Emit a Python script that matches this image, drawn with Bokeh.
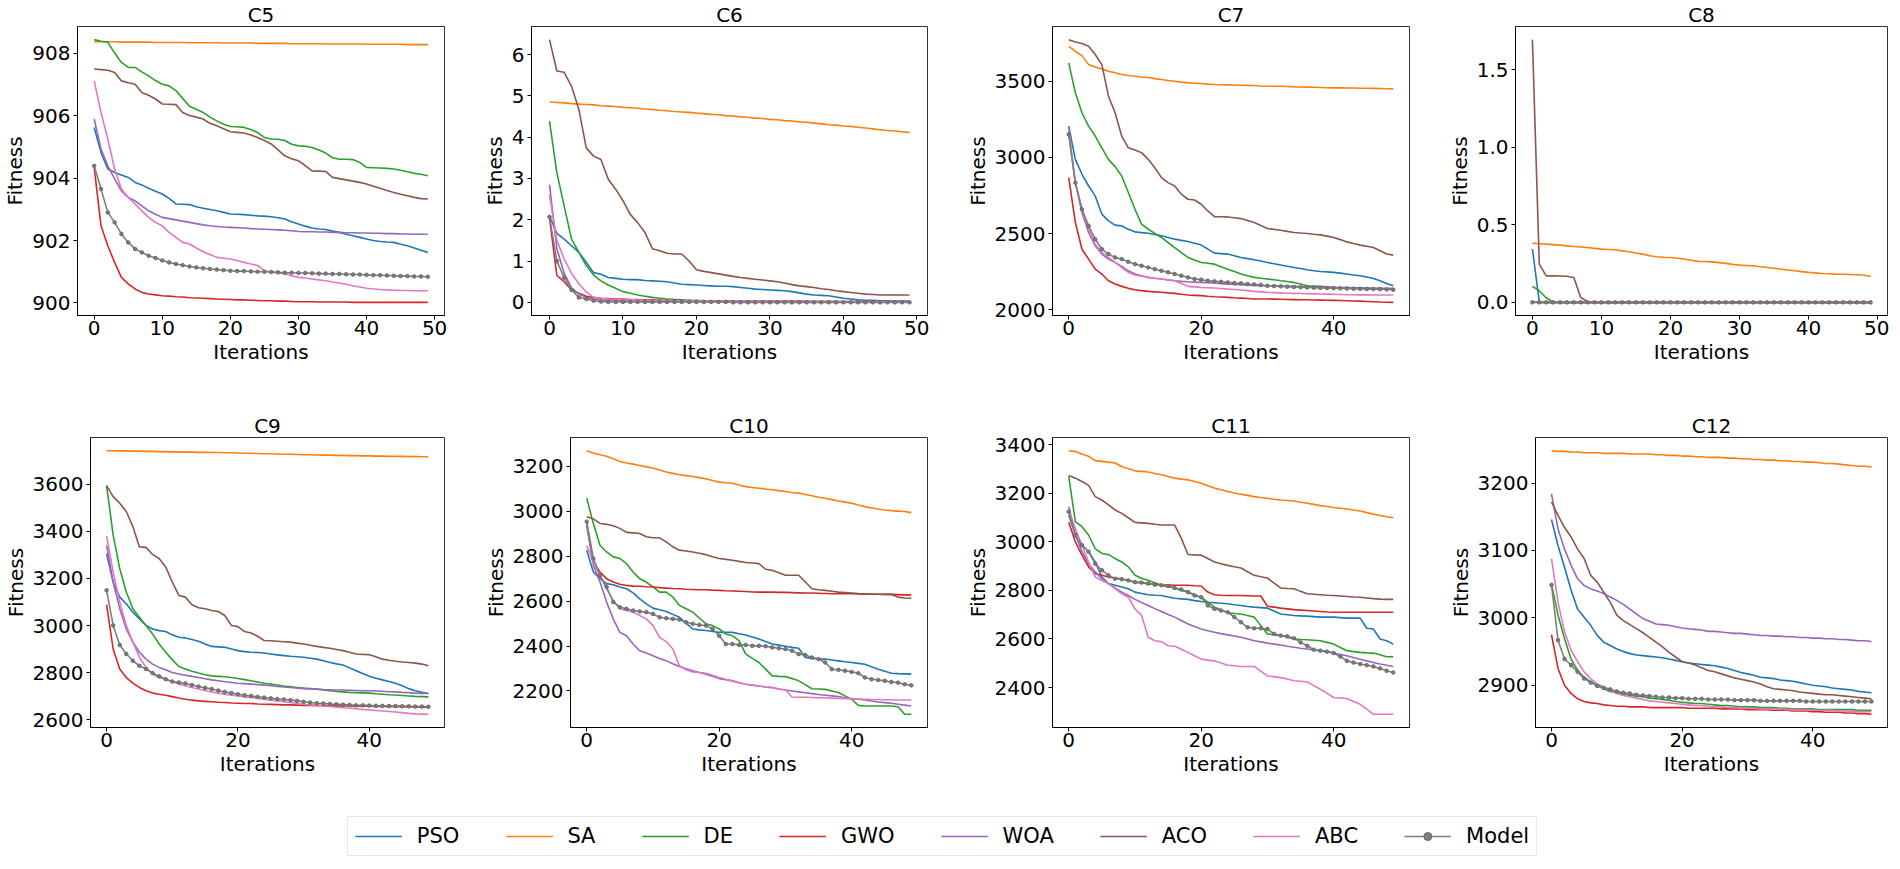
from bokeh.plotting import figure
from bokeh.layouts import column, row
from bokeh.models import Range1d, FixedTicker, Legend, LegendItem, Label, PrintfTickFormatter
from bokeh.embed import file_html
from bokeh.resources import INLINE

ITERATIONS = list(range(50))
ALGORITHMS = ["PSO", "SA", "DE", "GWO", "WOA", "ACO", "ABC", "Model"]
COLORS = ["#1f77b4", "#ff7f0e", "#2ca02c", "#d62728", "#9467bd", "#8c564b", "#e377c2", "#7f7f7f"]

# ---------------- C5 ----------------
C5_PSO = [905.62, 904.82, 904.29, 904.18, 904.10, 904.02, 903.86, 903.78, 903.67, 903.58,
          903.49, 903.35, 903.17, 903.16, 903.15, 903.08, 903.03, 902.99, 902.95, 902.90,
          902.85, 902.84, 902.83, 902.81, 902.79, 902.78, 902.76, 902.73, 902.69, 902.60,
          902.53, 902.46, 902.40, 902.37, 902.35, 902.30, 902.26, 902.20, 902.15, 902.10,
          902.05, 902.00, 901.97, 901.95, 901.94, 901.88, 901.83, 901.76, 901.69, 901.62]
C5_SA = [908.36, 908.36, 908.36, 908.36, 908.35, 908.35, 908.35, 908.35, 908.35, 908.34,
         908.34, 908.34, 908.34, 908.34, 908.33, 908.33, 908.33, 908.33, 908.33, 908.32,
         908.32, 908.32, 908.32, 908.32, 908.31, 908.31, 908.31, 908.31, 908.31, 908.30,
         908.30, 908.30, 908.30, 908.30, 908.29, 908.29, 908.29, 908.29, 908.29, 908.29,
         908.28, 908.28, 908.28, 908.28, 908.28, 908.28, 908.27, 908.27, 908.27, 908.27]
C5_DE = [908.43, 908.38, 908.35, 908.00, 907.70, 907.54, 907.54, 907.40, 907.27, 907.12,
         907.00, 906.95, 906.80, 906.55, 906.30, 906.20, 906.10, 905.95, 905.83, 905.72,
         905.65, 905.64, 905.62, 905.55, 905.46, 905.30, 905.25, 905.24, 905.20, 905.08,
         905.03, 905.02, 904.98, 904.90, 904.80, 904.65, 904.60, 904.60, 904.59, 904.50,
         904.34, 904.33, 904.32, 904.31, 904.29, 904.25, 904.20, 904.15, 904.12, 904.07]
C5_GWO = [904.34, 902.47, 901.83, 901.30, 900.82, 900.61, 900.45, 900.34, 900.29, 900.26,
          900.23, 900.22, 900.20, 900.19, 900.17, 900.16, 900.15, 900.14, 900.13, 900.12,
          900.11, 900.10, 900.10, 900.09, 900.08, 900.07, 900.07, 900.06, 900.06, 900.05,
          900.04, 900.04, 900.04, 900.03, 900.03, 900.03, 900.03, 900.03, 900.02, 900.02,
          900.02, 900.02, 900.02, 900.02, 900.02, 900.02, 900.02, 900.02, 900.02, 900.02]
C5_WOA = [905.89, 904.93, 904.39, 903.97, 903.59, 903.38, 903.27, 903.11, 902.95, 902.84,
          902.74, 902.70, 902.66, 902.62, 902.58, 902.54, 902.50, 902.47, 902.45, 902.43,
          902.42, 902.41, 902.40, 902.38, 902.37, 902.36, 902.35, 902.34, 902.33, 902.31,
          902.29, 902.28, 902.28, 902.27, 902.27, 902.26, 902.26, 902.25, 902.25, 902.24,
          902.24, 902.23, 902.23, 902.22, 902.22, 902.21, 902.21, 902.20, 902.20, 902.20]
C5_ACO = [907.49, 907.47, 907.45, 907.38, 907.11, 907.05, 907.00, 906.74, 906.65, 906.53,
          906.37, 906.36, 906.35, 906.10, 906.00, 905.95, 905.89, 905.75, 905.67, 905.58,
          905.48, 905.46, 905.44, 905.38, 905.30, 905.20, 905.09, 904.90, 904.71, 904.62,
          904.55, 904.40, 904.23, 904.22, 904.21, 904.02, 903.98, 903.94, 903.90, 903.86,
          903.81, 903.74, 903.67, 903.60, 903.54, 903.48, 903.43, 903.38, 903.34, 903.33]
C5_ABC = [907.11, 906.10, 905.25, 904.29, 903.65, 903.38, 903.17, 902.95, 902.74, 902.58,
          902.47, 902.26, 902.10, 901.94, 901.89, 901.76, 901.64, 901.55, 901.46, 901.43,
          901.41, 901.36, 901.30, 901.25, 901.20, 901.03, 900.99, 900.96, 900.93, 900.87,
          900.82, 900.80, 900.77, 900.74, 900.71, 900.67, 900.64, 900.60, 900.55, 900.51,
          900.47, 900.45, 900.43, 900.42, 900.41, 900.40, 900.40, 900.39, 900.39, 900.39]
C5_MODEL = [904.39, 903.65, 902.90, 902.58, 902.21, 901.94, 901.73, 901.62, 901.51, 901.44,
            901.36, 901.30, 901.25, 901.21, 901.17, 901.14, 901.11, 901.09, 901.07, 901.05,
            901.03, 901.02, 901.02, 901.01, 901.00, 901.00, 900.99, 900.98, 900.97, 900.97,
            900.96, 900.96, 900.95, 900.94, 900.94, 900.93, 900.93, 900.92, 900.91, 900.91,
            900.90, 900.89, 900.89, 900.88, 900.87, 900.86, 900.86, 900.85, 900.85, 900.84]

# ---------------- C6 (values in units of 1e8) ----------------
C6_PSO = [2.09, 1.67, 1.53, 1.37, 1.21, 0.97, 0.72, 0.68, 0.60, 0.58,
          0.56, 0.55, 0.55, 0.53, 0.52, 0.51, 0.50, 0.47, 0.44, 0.43,
          0.42, 0.41, 0.40, 0.39, 0.39, 0.38, 0.36, 0.34, 0.32, 0.31,
          0.30, 0.29, 0.28, 0.26, 0.23, 0.20, 0.18, 0.17, 0.16, 0.13,
          0.10, 0.08, 0.06, 0.05, 0.05, 0.04, 0.04, 0.03, 0.03, 0.03]
C6_SA = [4.85, 4.84, 4.83, 4.81, 4.80, 4.79, 4.78, 4.76, 4.75, 4.74,
         4.72, 4.71, 4.70, 4.68, 4.67, 4.65, 4.64, 4.62, 4.61, 4.60,
         4.58, 4.57, 4.55, 4.54, 4.52, 4.51, 4.49, 4.48, 4.46, 4.45,
         4.43, 4.42, 4.40, 4.39, 4.37, 4.36, 4.34, 4.32, 4.30, 4.29,
         4.27, 4.26, 4.24, 4.22, 4.20, 4.18, 4.16, 4.15, 4.13, 4.11]
C6_DE = [4.39, 3.14, 2.33, 1.53, 1.21, 0.89, 0.66, 0.52, 0.42, 0.34,
         0.26, 0.22, 0.18, 0.15, 0.12, 0.10, 0.08, 0.07, 0.06, 0.05,
         0.05, 0.04, 0.04, 0.04, 0.03, 0.03, 0.03, 0.03, 0.03, 0.02,
         0.02, 0.02, 0.02, 0.02, 0.02, 0.02, 0.02, 0.02, 0.02, 0.02,
         0.01, 0.01, 0.01, 0.01, 0.01, 0.01, 0.01, 0.01, 0.01, 0.01]
C6_GWO = [2.05, 0.65, 0.50, 0.30, 0.22, 0.15, 0.12, 0.10, 0.09, 0.08,
          0.08, 0.07, 0.07, 0.06, 0.06, 0.05, 0.05, 0.05, 0.04, 0.04,
          0.04, 0.03, 0.03, 0.03, 0.03, 0.03, 0.03, 0.03, 0.03, 0.03,
          0.03, 0.03, 0.03, 0.03, 0.03, 0.03, 0.02, 0.02, 0.02, 0.02,
          0.02, 0.02, 0.02, 0.02, 0.02, 0.02, 0.02, 0.02, 0.02, 0.02]
C6_WOA = [2.85, 1.30, 0.70, 0.35, 0.20, 0.12, 0.08, 0.06, 0.05, 0.05,
          0.04, 0.04, 0.04, 0.03, 0.03, 0.03, 0.03, 0.03, 0.03, 0.02,
          0.02, 0.02, 0.02, 0.02, 0.02, 0.02, 0.02, 0.02, 0.02, 0.02,
          0.02, 0.02, 0.02, 0.02, 0.02, 0.01, 0.01, 0.01, 0.01, 0.01,
          0.01, 0.01, 0.01, 0.01, 0.01, 0.01, 0.01, 0.01, 0.01, 0.01]
C6_ACO = [6.36, 5.60, 5.57, 5.23, 4.67, 3.74, 3.54, 3.46, 2.98, 2.74,
          2.46, 2.13, 1.93, 1.69, 1.30, 1.25, 1.19, 1.17, 1.17, 1.00,
          0.79, 0.75, 0.72, 0.69, 0.66, 0.63, 0.60, 0.58, 0.56, 0.54,
          0.52, 0.50, 0.47, 0.43, 0.40, 0.38, 0.36, 0.33, 0.31, 0.28,
          0.26, 0.24, 0.22, 0.20, 0.19, 0.18, 0.18, 0.18, 0.18, 0.18]
C6_ABC = [2.60, 1.50, 1.05, 0.70, 0.45, 0.25, 0.12, 0.09, 0.08, 0.07,
          0.07, 0.06, 0.06, 0.05, 0.05, 0.05, 0.05, 0.04, 0.04, 0.04,
          0.04, 0.03, 0.03, 0.03, 0.03, 0.03, 0.03, 0.03, 0.03, 0.03,
          0.03, 0.03, 0.03, 0.03, 0.03, 0.03, 0.02, 0.02, 0.02, 0.02,
          0.02, 0.02, 0.02, 0.02, 0.02, 0.02, 0.02, 0.02, 0.02, 0.02]
C6_MODEL = [2.07, 1.00, 0.60, 0.30, 0.12, 0.08, 0.04, 0.02, 0.01, 0.01,
            0.01, 0.01, 0.01, 0.01, 0.01, 0.01, 0.01, 0.01, 0.01, 0.01,
            0.01, 0.01, 0.01, 0.01, 0.01, 0.00, 0.00, 0.00, 0.00, 0.00,
            0.00, 0.00, 0.00, 0.00, 0.00, 0.00, 0.00, 0.00, 0.00, 0.00,
            0.00, 0.00, 0.00, 0.00, 0.00, 0.00, 0.00, 0.00, 0.00, 0.00]

# ---------------- C7 ----------------
C7_PSO = [3205, 2987, 2889, 2812, 2747, 2627, 2583, 2555, 2550, 2528,
          2511, 2506, 2502, 2494, 2485, 2474, 2463, 2455, 2448, 2436,
          2424, 2398, 2371, 2368, 2365, 2354, 2343, 2335, 2328, 2319,
          2310, 2301, 2293, 2285, 2277, 2270, 2262, 2256, 2251, 2248,
          2245, 2240, 2234, 2228, 2223, 2214, 2205, 2190, 2172, 2157]
C7_SA = [3729, 3697, 3668, 3609, 3594, 3581, 3566, 3555, 3544, 3538,
         3533, 3528, 3524, 3517, 3511, 3505, 3500, 3494, 3489, 3487,
         3485, 3481, 3478, 3477, 3476, 3475, 3474, 3473, 3472, 3469,
         3467, 3467, 3467, 3465, 3463, 3462, 3461, 3460, 3459, 3457,
         3456, 3456, 3455, 3455, 3454, 3454, 3453, 3452, 3451, 3450]
C7_DE = [3620, 3424, 3293, 3205, 3140, 3063, 2987, 2939, 2878, 2769,
         2659, 2561, 2528, 2501, 2474, 2441, 2408, 2375, 2343, 2326,
         2310, 2305, 2299, 2282, 2266, 2250, 2234, 2223, 2212, 2206,
         2201, 2196, 2190, 2185, 2179, 2168, 2157, 2155, 2153, 2150,
         2146, 2144, 2142, 2141, 2140, 2140, 2140, 2138, 2136, 2135]
C7_GWO = [2867, 2572, 2397, 2332, 2266, 2234, 2190, 2168, 2153, 2140,
          2131, 2125, 2120, 2117, 2114, 2110, 2107, 2101, 2096, 2094,
          2092, 2088, 2085, 2083, 2081, 2078, 2076, 2073, 2070, 2070,
          2070, 2069, 2068, 2067, 2066, 2065, 2065, 2064, 2063, 2062,
          2061, 2060, 2059, 2057, 2056, 2054, 2052, 2050, 2049, 2048]
C7_WOA = [3162, 2834, 2638, 2507, 2419, 2365, 2332, 2310, 2284, 2255,
          2234, 2223, 2212, 2206, 2201, 2195, 2190, 2186, 2183, 2181,
          2179, 2177, 2175, 2171, 2168, 2166, 2164, 2161, 2159, 2158,
          2157, 2156, 2155, 2154, 2153, 2152, 2151, 2150, 2149, 2148,
          2147, 2146, 2145, 2144, 2143, 2142, 2141, 2141, 2140, 2140]
C7_ACO = [3773, 3758, 3747, 3729, 3675, 3609, 3402, 3293, 3140, 3063,
          3048, 3031, 2987, 2932, 2867, 2834, 2812, 2758, 2725, 2720,
          2692, 2648, 2611, 2610, 2609, 2604, 2598, 2585, 2572, 2552,
          2533, 2527, 2522, 2514, 2507, 2503, 2500, 2495, 2491, 2483,
          2474, 2460, 2445, 2434, 2424, 2416, 2408, 2387, 2365, 2358]
C7_ABC = [3183, 2834, 2659, 2528, 2430, 2376, 2343, 2310, 2277, 2245,
          2227, 2220, 2212, 2206, 2201, 2196, 2190, 2172, 2153, 2150,
          2146, 2144, 2142, 2139, 2135, 2132, 2129, 2125, 2120, 2117,
          2114, 2112, 2110, 2108, 2107, 2106, 2105, 2104, 2103, 2102,
          2101, 2100, 2098, 2098, 2097, 2097, 2096, 2096, 2096, 2096]
C7_MODEL = [3151, 2834, 2659, 2550, 2463, 2397, 2365, 2343, 2332, 2314,
            2299, 2288, 2277, 2266, 2255, 2245, 2234, 2223, 2212, 2201,
            2197, 2190, 2186, 2183, 2179, 2175, 2173, 2168, 2166, 2162,
            2157, 2155, 2153, 2151, 2149, 2147, 2146, 2144, 2143, 2142,
            2141, 2140, 2139, 2138, 2137, 2136, 2135, 2134, 2133, 2131]

# ---------------- C8 (values in units of 1e12) ----------------
C8_PSO = [0.343, 0.004, 0.0, 0.0, 0.0, 0.0, 0.0, 0.0, 0.0, 0.0,
          0.0, 0.0, 0.0, 0.0, 0.0, 0.0, 0.0, 0.0, 0.0, 0.0,
          0.0, 0.0, 0.0, 0.0, 0.0, 0.0, 0.0, 0.0, 0.0, 0.0,
          0.0, 0.0, 0.0, 0.0, 0.0, 0.0, 0.0, 0.0, 0.0, 0.0,
          0.0, 0.0, 0.0, 0.0, 0.0, 0.0, 0.0, 0.0, 0.0, 0.0]
C8_SA = [0.381, 0.378, 0.375, 0.372, 0.369, 0.364, 0.360, 0.357, 0.354, 0.348,
         0.343, 0.341, 0.339, 0.332, 0.326, 0.318, 0.311, 0.300, 0.294, 0.291,
         0.289, 0.284, 0.279, 0.271, 0.264, 0.263, 0.261, 0.256, 0.251, 0.245,
         0.240, 0.238, 0.236, 0.230, 0.225, 0.220, 0.214, 0.209, 0.204, 0.198,
         0.193, 0.190, 0.186, 0.184, 0.182, 0.181, 0.180, 0.178, 0.176, 0.167]
C8_DE = [0.103, 0.075, 0.030, 0.002, 0.0, 0.0, 0.0, 0.0, 0.0, 0.0,
         0.0, 0.0, 0.0, 0.0, 0.0, 0.0, 0.0, 0.0, 0.0, 0.0,
         0.0, 0.0, 0.0, 0.0, 0.0, 0.0, 0.0, 0.0, 0.0, 0.0,
         0.0, 0.0, 0.0, 0.0, 0.0, 0.0, 0.0, 0.0, 0.0, 0.0,
         0.0, 0.0, 0.0, 0.0, 0.0, 0.0, 0.0, 0.0, 0.0, 0.0]
C8_GWO = [0.003, 0.0, 0.0, 0.0, 0.0, 0.0, 0.0, 0.0, 0.0, 0.0,
          0.0, 0.0, 0.0, 0.0, 0.0, 0.0, 0.0, 0.0, 0.0, 0.0,
          0.0, 0.0, 0.0, 0.0, 0.0, 0.0, 0.0, 0.0, 0.0, 0.0,
          0.0, 0.0, 0.0, 0.0, 0.0, 0.0, 0.0, 0.0, 0.0, 0.0,
          0.0, 0.0, 0.0, 0.0, 0.0, 0.0, 0.0, 0.0, 0.0, 0.0]
C8_WOA = [0.002, 0.0, 0.0, 0.0, 0.0, 0.0, 0.0, 0.0, 0.0, 0.0,
          0.0, 0.0, 0.0, 0.0, 0.0, 0.0, 0.0, 0.0, 0.0, 0.0,
          0.0, 0.0, 0.0, 0.0, 0.0, 0.0, 0.0, 0.0, 0.0, 0.0,
          0.0, 0.0, 0.0, 0.0, 0.0, 0.0, 0.0, 0.0, 0.0, 0.0,
          0.0, 0.0, 0.0, 0.0, 0.0, 0.0, 0.0, 0.0, 0.0, 0.0]
C8_ACO = [1.693, 0.246, 0.171, 0.171, 0.170, 0.168, 0.160, 0.032, 0.004, 0.0,
          0.0, 0.0, 0.0, 0.0, 0.0, 0.0, 0.0, 0.0, 0.0, 0.0,
          0.0, 0.0, 0.0, 0.0, 0.0, 0.0, 0.0, 0.0, 0.0, 0.0,
          0.0, 0.0, 0.0, 0.0, 0.0, 0.0, 0.0, 0.0, 0.0, 0.0,
          0.0, 0.0, 0.0, 0.0, 0.0, 0.0, 0.0, 0.0, 0.0, 0.0]
C8_ABC = [0.004, 0.001, 0.0, 0.0, 0.0, 0.0, 0.0, 0.0, 0.0, 0.0,
          0.0, 0.0, 0.0, 0.0, 0.0, 0.0, 0.0, 0.0, 0.0, 0.0,
          0.0, 0.0, 0.0, 0.0, 0.0, 0.0, 0.0, 0.0, 0.0, 0.0,
          0.0, 0.0, 0.0, 0.0, 0.0, 0.0, 0.0, 0.0, 0.0, 0.0,
          0.0, 0.0, 0.0, 0.0, 0.0, 0.0, 0.0, 0.0, 0.0, 0.0]
C8_MODEL = [0.0, 0.0, 0.0, 0.0, 0.0, 0.0, 0.0, 0.0, 0.0, 0.0,
            0.0, 0.0, 0.0, 0.0, 0.0, 0.0, 0.0, 0.0, 0.0, 0.0,
            0.0, 0.0, 0.0, 0.0, 0.0, 0.0, 0.0, 0.0, 0.0, 0.0,
            0.0, 0.0, 0.0, 0.0, 0.0, 0.0, 0.0, 0.0, 0.0, 0.0,
            0.0, 0.0, 0.0, 0.0, 0.0, 0.0, 0.0, 0.0, 0.0, 0.0]

# ---------------- C9 ----------------
C9_PSO = [3306, 3185, 3121, 3093, 3057, 3029, 3001, 2986, 2979, 2975,
          2961, 2951, 2948, 2941, 2934, 2922, 2912, 2910, 2908, 2901,
          2894, 2890, 2887, 2886, 2884, 2880, 2876, 2873, 2870, 2868,
          2866, 2862, 2858, 2851, 2844, 2838, 2833, 2821, 2809, 2797,
          2785, 2777, 2770, 2763, 2756, 2745, 2733, 2724, 2717, 2712]
C9_SA = [3742, 3742, 3741, 3741, 3740, 3740, 3739, 3739, 3738, 3738,
         3737, 3737, 3736, 3736, 3735, 3735, 3734, 3734, 3733, 3733,
         3732, 3731, 3731, 3730, 3729, 3729, 3728, 3727, 3727, 3726,
         3725, 3725, 3724, 3723, 3723, 3722, 3722, 3721, 3721, 3720,
         3720, 3719, 3719, 3718, 3718, 3718, 3717, 3717, 3716, 3716]
C9_DE = [3594, 3384, 3242, 3143, 3072, 3036, 3001, 2965, 2922, 2887,
         2856, 2827, 2816, 2807, 2799, 2792, 2787, 2785, 2783, 2780,
         2776, 2771, 2766, 2761, 2756, 2752, 2748, 2744, 2741, 2738,
         2735, 2733, 2731, 2727, 2724, 2721, 2719, 2717, 2716, 2715,
         2714, 2711, 2709, 2707, 2706, 2704, 2702, 2700, 2699, 2698]
C9_GWO = [3089, 2901, 2816, 2780, 2756, 2738, 2724, 2714, 2709, 2705,
          2699, 2693, 2688, 2684, 2681, 2679, 2677, 2675, 2674, 2672,
          2671, 2670, 2670, 2668, 2667, 2666, 2665, 2664, 2664, 2663,
          2662, 2662, 2661, 2661, 2660, 2660, 2659, 2659, 2658, 2658,
          2658, 2657, 2657, 2657, 2656, 2656, 2655, 2655, 2654, 2654]
C9_WOA = [3341, 3185, 3072, 2986, 2930, 2887, 2858, 2837, 2823, 2813,
          2801, 2795, 2790, 2785, 2780, 2775, 2770, 2766, 2762, 2759,
          2756, 2754, 2752, 2750, 2748, 2745, 2742, 2740, 2738, 2735,
          2733, 2732, 2731, 2729, 2728, 2727, 2727, 2726, 2725, 2724,
          2724, 2723, 2722, 2720, 2719, 2717, 2716, 2714, 2713, 2712]
C9_ACO = [3594, 3547, 3519, 3484, 3420, 3334, 3332, 3302, 3285, 3249,
          3185, 3128, 3121, 3089, 3076, 3072, 3064, 3060, 3043, 3001,
          2996, 2975, 2969, 2955, 2937, 2936, 2934, 2932, 2930, 2926,
          2922, 2917, 2912, 2908, 2904, 2899, 2894, 2887, 2880, 2878,
          2877, 2868, 2858, 2853, 2849, 2846, 2844, 2841, 2837, 2830]
C9_ABC = [3381, 3228, 3100, 3001, 2930, 2866, 2823, 2795, 2780, 2773,
          2762, 2753, 2745, 2738, 2731, 2725, 2719, 2714, 2709, 2705,
          2702, 2698, 2695, 2691, 2688, 2684, 2681, 2677, 2674, 2670,
          2667, 2664, 2662, 2659, 2657, 2654, 2652, 2650, 2648, 2645,
          2643, 2640, 2638, 2636, 2634, 2631, 2628, 2626, 2625, 2624]
C9_MODEL = [3150, 3001, 2918, 2880, 2851, 2830, 2816, 2799, 2785, 2773,
            2763, 2759, 2755, 2748, 2742, 2736, 2731, 2725, 2719, 2714,
            2709, 2705, 2702, 2698, 2695, 2692, 2689, 2687, 2684, 2681,
            2677, 2674, 2671, 2670, 2668, 2667, 2665, 2664, 2662, 2662,
            2661, 2660, 2660, 2659, 2659, 2658, 2658, 2657, 2657, 2656]

# ---------------- C10 ----------------
C10_PSO = [2827, 2730, 2700, 2678, 2673, 2663, 2655, 2637, 2610, 2588,
           2569, 2562, 2554, 2541, 2528, 2502, 2476, 2472, 2469, 2465,
           2461, 2461, 2461, 2455, 2449, 2440, 2431, 2420, 2409, 2404,
           2399, 2394, 2390, 2349, 2345, 2343, 2342, 2338, 2334, 2330,
           2327, 2323, 2319, 2308, 2297, 2288, 2279, 2277, 2276, 2275]
C10_SA = [3270, 3260, 3252, 3245, 3234, 3222, 3215, 3210, 3204, 3198,
          3193, 3184, 3175, 3169, 3163, 3159, 3155, 3150, 3145, 3137,
          3130, 3127, 3125, 3117, 3110, 3106, 3103, 3099, 3096, 3092,
          3088, 3084, 3081, 3075, 3069, 3063, 3058, 3052, 3046, 3041,
          3036, 3028, 3021, 3015, 3010, 3006, 3003, 3001, 2999, 2994]
C10_DE = [3058, 2946, 2849, 2819, 2797, 2790, 2767, 2730, 2700, 2685,
          2663, 2640, 2640, 2618, 2581, 2566, 2551, 2525, 2499, 2491,
          2476, 2454, 2446, 2424, 2364, 2345, 2327, 2297, 2267, 2265,
          2264, 2255, 2245, 2228, 2210, 2209, 2207, 2200, 2193, 2178,
          2163, 2136, 2133, 2133, 2133, 2133, 2133, 2130, 2096, 2096]
C10_GWO = [2939, 2775, 2730, 2700, 2685, 2675, 2670, 2667, 2666, 2664,
           2663, 2660, 2658, 2656, 2655, 2653, 2652, 2651, 2651, 2649,
           2648, 2646, 2645, 2644, 2643, 2641, 2640, 2640, 2640, 2639,
           2639, 2638, 2637, 2636, 2636, 2635, 2634, 2633, 2633, 2633,
           2633, 2632, 2631, 2631, 2631, 2630, 2630, 2629, 2628, 2628]
C10_WOA = [2942, 2760, 2685, 2596, 2521, 2461, 2446, 2409, 2379, 2369,
           2357, 2345, 2334, 2321, 2309, 2299, 2290, 2282, 2275, 2265,
           2255, 2250, 2245, 2237, 2230, 2226, 2222, 2218, 2215, 2209,
           2204, 2200, 2196, 2192, 2188, 2184, 2181, 2178, 2175, 2170,
           2166, 2163, 2160, 2155, 2151, 2148, 2145, 2141, 2137, 2133]
C10_ACO = [2976, 2966, 2946, 2942, 2936, 2924, 2906, 2904, 2901, 2887,
           2882, 2882, 2864, 2842, 2827, 2823, 2819, 2813, 2807, 2798,
           2790, 2786, 2782, 2777, 2772, 2770, 2767, 2742, 2737, 2726,
           2715, 2715, 2715, 2685, 2655, 2651, 2648, 2644, 2640, 2638,
           2636, 2634, 2633, 2632, 2631, 2630, 2630, 2618, 2614, 2613]
C10_ABC = [2846, 2775, 2715, 2655, 2603, 2566, 2558, 2551, 2536, 2521,
           2491, 2439, 2420, 2387, 2312, 2294, 2285, 2282, 2279, 2270,
           2260, 2252, 2245, 2237, 2230, 2226, 2222, 2218, 2215, 2209,
           2204, 2173, 2172, 2172, 2171, 2170, 2169, 2168, 2167, 2166,
           2165, 2164, 2163, 2162, 2162, 2161, 2161, 2160, 2160, 2160]
C10_MODEL = [2954, 2790, 2715, 2663, 2596, 2573, 2566, 2558, 2554, 2551,
             2543, 2528, 2524, 2521, 2518, 2506, 2499, 2494, 2491, 2476,
             2446, 2409, 2409, 2405, 2405, 2401, 2401, 2399, 2394, 2390,
             2387, 2379, 2364, 2360, 2349, 2342, 2327, 2297, 2294, 2290,
             2285, 2279, 2260, 2252, 2249, 2245, 2240, 2237, 2230, 2225]

# ---------------- C11 ----------------
C11_PSO = [3110, 3028, 2986, 2959, 2917, 2855, 2828, 2821, 2814, 2807,
           2793, 2787, 2782, 2780, 2779, 2773, 2768, 2765, 2763, 2758,
           2754, 2751, 2749, 2747, 2745, 2741, 2738, 2734, 2731, 2729,
           2727, 2715, 2703, 2700, 2697, 2695, 2694, 2692, 2690, 2690,
           2690, 2688, 2686, 2686, 2686, 2644, 2641, 2600, 2593, 2579]
C11_SA = [3375, 3372, 3361, 3352, 3334, 3331, 3328, 3324, 3310, 3301,
          3292, 3290, 3287, 3281, 3276, 3269, 3262, 3258, 3255, 3248,
          3241, 3231, 3221, 3214, 3207, 3201, 3196, 3191, 3186, 3182,
          3179, 3175, 3172, 3170, 3168, 3163, 3159, 3154, 3149, 3145,
          3141, 3138, 3135, 3131, 3127, 3120, 3114, 3108, 3103, 3099]
C11_DE = [3269, 3083, 3062, 3028, 2972, 2952, 2948, 2931, 2917, 2897,
          2862, 2850, 2841, 2831, 2821, 2815, 2810, 2800, 2793, 2782,
          2772, 2752, 2731, 2720, 2708, 2705, 2703, 2697, 2690, 2655,
          2621, 2617, 2614, 2607, 2600, 2598, 2597, 2595, 2593, 2586,
          2579, 2565, 2552, 2548, 2545, 2543, 2542, 2535, 2527, 2527]
C11_GWO = [3080, 3000, 2945, 2897, 2869, 2862, 2855, 2851, 2848, 2841,
           2834, 2831, 2828, 2825, 2823, 2822, 2821, 2821, 2821, 2819,
           2818, 2793, 2782, 2780, 2779, 2779, 2779, 2778, 2777, 2777,
           2735, 2731, 2727, 2724, 2721, 2719, 2717, 2715, 2713, 2711,
           2710, 2710, 2710, 2710, 2710, 2710, 2710, 2710, 2710, 2710]
C11_WOA = [3145, 3028, 2959, 2910, 2876, 2848, 2828, 2810, 2793, 2779,
           2763, 2750, 2738, 2725, 2713, 2701, 2690, 2676, 2662, 2651,
           2641, 2634, 2628, 2622, 2617, 2612, 2607, 2600, 2593, 2588,
           2583, 2579, 2575, 2570, 2566, 2562, 2559, 2555, 2552, 2547,
           2542, 2536, 2531, 2524, 2517, 2510, 2503, 2497, 2492, 2487]
C11_ACO = [3273, 3262, 3248, 3232, 3186, 3172, 3152, 3131, 3117, 3099,
           3080, 3078, 3076, 3072, 3069, 3069, 3069, 3014, 2948, 2946,
           2945, 2931, 2917, 2910, 2903, 2897, 2892, 2877, 2862, 2856,
           2851, 2830, 2810, 2808, 2807, 2796, 2786, 2784, 2782, 2780,
           2779, 2777, 2775, 2773, 2772, 2769, 2766, 2764, 2763, 2763]
C11_ABC = [3131, 3055, 2986, 2917, 2855, 2841, 2828, 2807, 2786, 2772,
           2724, 2697, 2607, 2593, 2589, 2572, 2570, 2558, 2545, 2531,
           2517, 2513, 2510, 2501, 2492, 2490, 2487, 2487, 2487, 2468,
           2448, 2445, 2441, 2435, 2428, 2426, 2423, 2408, 2393, 2376,
           2359, 2357, 2355, 2343, 2331, 2311, 2290, 2290, 2290, 2290]
C11_MODEL = [3124, 3028, 2986, 2959, 2910, 2883, 2862, 2848, 2846, 2841,
             2834, 2832, 2828, 2823, 2821, 2818, 2810, 2804, 2793, 2779,
             2772, 2738, 2724, 2717, 2710, 2690, 2669, 2648, 2644, 2644,
             2641, 2621, 2614, 2611, 2603, 2586, 2572, 2556, 2552, 2548,
             2542, 2528, 2510, 2503, 2497, 2492, 2487, 2479, 2469, 2462]

# ---------------- C12 ----------------
C12_PSO = [3146, 3107, 3075, 3041, 3013, 3001, 2989, 2974, 2964, 2959,
           2954, 2950, 2947, 2945, 2944, 2943, 2942, 2941, 2939, 2937,
           2935, 2933, 2932, 2931, 2930, 2929, 2927, 2925, 2922, 2919,
           2917, 2915, 2912, 2911, 2910, 2908, 2907, 2906, 2904, 2902,
           2900, 2899, 2898, 2896, 2895, 2894, 2893, 2891, 2890, 2889]
C12_SA = [3248, 3247, 3247, 3246, 3246, 3245, 3245, 3245, 3244, 3244,
          3244, 3244, 3243, 3243, 3243, 3243, 3242, 3242, 3241, 3241,
          3240, 3240, 3239, 3239, 3238, 3238, 3238, 3237, 3237, 3236,
          3236, 3235, 3235, 3234, 3234, 3233, 3233, 3232, 3232, 3231,
          3231, 3230, 3229, 3229, 3228, 3227, 3226, 3225, 3225, 3224]
C12_DE = [3050, 3004, 2969, 2939, 2922, 2912, 2905, 2900, 2895, 2891,
          2889, 2887, 2885, 2884, 2883, 2881, 2880, 2879, 2878, 2876,
          2875, 2874, 2873, 2873, 2872, 2871, 2870, 2870, 2869, 2868,
          2868, 2868, 2867, 2867, 2867, 2866, 2866, 2865, 2865, 2865,
          2865, 2864, 2864, 2864, 2864, 2864, 2864, 2863, 2863, 2863]
C12_GWO = [2975, 2925, 2900, 2888, 2880, 2876, 2874, 2873, 2871, 2870,
           2869, 2869, 2868, 2868, 2868, 2867, 2867, 2867, 2867, 2867,
           2867, 2866, 2866, 2866, 2866, 2866, 2865, 2865, 2865, 2865,
           2864, 2864, 2864, 2864, 2863, 2863, 2863, 2862, 2862, 2862,
           2861, 2861, 2860, 2860, 2860, 2859, 2859, 2858, 2858, 2857]
C12_WOA = [3184, 3132, 3102, 3078, 3058, 3048, 3043, 3040, 3036, 3031,
           3026, 3020, 3013, 3006, 2999, 2995, 2991, 2990, 2989, 2987,
           2985, 2984, 2983, 2982, 2980, 2980, 2979, 2978, 2977, 2977,
           2976, 2975, 2974, 2974, 2973, 2973, 2972, 2972, 2971, 2971,
           2970, 2970, 2969, 2969, 2968, 2968, 2967, 2966, 2966, 2965]
C12_ACO = [3172, 3152, 3134, 3120, 3102, 3088, 3063, 3053, 3038, 3023,
           3004, 2996, 2990, 2984, 2978, 2971, 2964, 2957, 2949, 2942,
           2935, 2933, 2930, 2926, 2922, 2920, 2917, 2914, 2911, 2909,
           2907, 2905, 2902, 2898, 2895, 2894, 2893, 2892, 2890, 2889,
           2888, 2887, 2886, 2886, 2885, 2884, 2883, 2882, 2881, 2880]
C12_ABC = [3088, 3023, 2979, 2952, 2935, 2920, 2910, 2902, 2898, 2893,
           2888, 2885, 2883, 2881, 2879, 2877, 2876, 2875, 2874, 2873,
           2872, 2871, 2870, 2870, 2869, 2868, 2868, 2867, 2867, 2866,
           2866, 2866, 2865, 2865, 2865, 2865, 2864, 2864, 2864, 2864,
           2863, 2863, 2863, 2863, 2862, 2862, 2861, 2861, 2861, 2861]
C12_MODEL = [3049, 2967, 2939, 2930, 2920, 2910, 2904, 2899, 2896, 2894,
             2891, 2889, 2888, 2886, 2885, 2884, 2883, 2882, 2882, 2881,
             2881, 2880, 2880, 2880, 2879, 2879, 2879, 2879, 2878, 2878,
             2878, 2878, 2877, 2877, 2877, 2877, 2877, 2877, 2877, 2876,
             2876, 2876, 2876, 2876, 2876, 2876, 2876, 2876, 2876, 2876]

# ---------------- panel definitions ----------------
TITLES = ["C5", "C6", "C7", "C8", "C9", "C10", "C11", "C12"]
SERIES = [
    [C5_PSO, C5_SA, C5_DE, C5_GWO, C5_WOA, C5_ACO, C5_ABC, C5_MODEL],
    [C6_PSO, C6_SA, C6_DE, C6_GWO, C6_WOA, C6_ACO, C6_ABC, C6_MODEL],
    [C7_PSO, C7_SA, C7_DE, C7_GWO, C7_WOA, C7_ACO, C7_ABC, C7_MODEL],
    [C8_PSO, C8_SA, C8_DE, C8_GWO, C8_WOA, C8_ACO, C8_ABC, C8_MODEL],
    [C9_PSO, C9_SA, C9_DE, C9_GWO, C9_WOA, C9_ACO, C9_ABC, C9_MODEL],
    [C10_PSO, C10_SA, C10_DE, C10_GWO, C10_WOA, C10_ACO, C10_ABC, C10_MODEL],
    [C11_PSO, C11_SA, C11_DE, C11_GWO, C11_WOA, C11_ACO, C11_ABC, C11_MODEL],
    [C12_PSO, C12_SA, C12_DE, C12_GWO, C12_WOA, C12_ACO, C12_ABC, C12_MODEL],
]
Y_TICKS = [
    [900, 902, 904, 906, 908],
    [0, 1, 2, 3, 4, 5, 6],
    [2000, 2500, 3000, 3500],
    [0.0, 0.5, 1.0, 1.5],
    [2600, 2800, 3000, 3200, 3400, 3600],
    [2200, 2400, 2600, 2800, 3000, 3200],
    [2400, 2600, 2800, 3000, 3200, 3400],
    [2900, 3000, 3100, 3200],
]
X_TICKS = [
    [0, 10, 20, 30, 40, 50],
    [0, 10, 20, 30, 40, 50],
    [0, 20, 40],
    [0, 10, 20, 30, 40, 50],
    [0, 20, 40],
    [0, 20, 40],
    [0, 20, 40],
    [0, 20, 40],
]
OFFSET_TEXT = [None, "1e8", None, "1e12", None, None, None, None]
Y_FORMAT = [None, None, None, "%.1f", None, None, None, None]

# layout geometry: (min_border_left, frame_width, min_border_right)
H_GEOM = [(72, 367, 33), (54, 396, 25), (100, 357, 18), (88, 372, 2),
          (85, 354, 33), (93, 357, 25), (100, 357, 18), (108, 352, 2)]
# (min_border_top, frame_height, min_border_bottom) per row
V_GEOM = [(23, 289, 75), (47, 290, 58)]

FONT = "DejaVu Sans"


def make_panel(i):
    series = SERIES[i]
    lo = min(min(s) for s in series)
    hi = max(max(s) for s in series)
    pad = 0.05 * (hi - lo)
    left, fw, right = H_GEOM[i]
    top, fh, bottom = V_GEOM[i // 4]
    p = figure(frame_width=fw, frame_height=fh,
               min_border_left=left, min_border_right=right,
               min_border_top=top, min_border_bottom=bottom,
               x_range=Range1d(-2.45, 51.45), y_range=Range1d(lo - pad, hi + pad),
               toolbar_location=None, output_backend="svg", title=TITLES[i])
    p.title.text_font = FONT
    p.title.text_font_size = "20px"
    p.title.text_font_style = "normal"
    p.title.align = "center"
    p.title.standoff = 0
    p.title.text_color = "black"

    for name, color, vals in zip(ALGORITHMS, COLORS, series):
        xs = ITERATIONS[:len(vals)]
        p.line(xs, vals, line_color=color, line_width=1.6)
        if name == "Model":
            p.scatter(xs, vals, size=3.5, fill_color=color, line_color="#666666")

    p.xaxis.axis_label = "Iterations"
    p.yaxis.axis_label = "Fitness"
    p.xaxis.ticker = FixedTicker(ticks=X_TICKS[i])
    p.yaxis.ticker = FixedTicker(ticks=Y_TICKS[i])
    if Y_FORMAT[i]:
        p.yaxis.formatter = PrintfTickFormatter(format=Y_FORMAT[i])
    for ax in (p.xaxis[0], p.yaxis[0]):
        ax.axis_label_text_font = FONT
        ax.axis_label_text_font_size = "20px"
        ax.axis_label_text_font_style = "normal"
        ax.axis_label_text_color = "black"
        ax.major_label_text_font = FONT
        ax.major_label_text_font_size = "20px"
        ax.major_label_text_color = "black"
        ax.major_tick_out = 4
        ax.major_tick_in = 0
        ax.minor_tick_line_color = None
        ax.axis_line_color = "black"
        ax.major_tick_line_color = "black"
        ax.axis_label_standoff = 2
    p.xaxis.major_label_standoff = 1
    p.yaxis.major_label_standoff = 3
    p.grid.visible = False
    p.outline_line_color = "#333333"
    p.outline_line_width = 1
    p.background_fill_color = "white"
    p.border_fill_color = "white"

    if OFFSET_TEXT[i]:
        p.add_layout(Label(x=-2.45, y=hi + pad, text=OFFSET_TEXT[i],
                           text_font=FONT, text_font_size="12px",
                           text_baseline="bottom", text_align="left",
                           y_offset=1, text_color="black"))
    return p


panels = [make_panel(i) for i in range(8)]

# ---------------- shared legend ----------------
# The legend figure's renderers hold a point far outside its (0..1) ranges, so
# only their legend glyphs are visible.
HIDDEN_X = [5, 6]
HIDDEN_Y = [5, 6]
lp = figure(frame_width=1884, frame_height=40, min_border_top=31, min_border_bottom=0,
            min_border_left=0, min_border_right=0,
            x_range=Range1d(0, 1), y_range=Range1d(0, 1),
            x_axis_type=None, y_axis_type=None,
            toolbar_location=None, output_backend="svg")
lp.outline_line_color = None
lp.background_fill_color = "white"
lp.border_fill_color = "white"
items = []
for name, color in zip(ALGORITHMS, COLORS):
    r = lp.line(HIDDEN_X, HIDDEN_Y, line_color=color, line_width=1.6)
    rs = [r]
    if name == "Model":
        rs.append(lp.scatter(HIDDEN_X, HIDDEN_Y, size=5, fill_color=color, line_color="#666666"))
    items.append(LegendItem(label=name, renderers=rs))
legend = Legend(items=items, orientation="horizontal", location="center",
                glyph_width=47, glyph_height=20, label_standoff=15, spacing=46,
                padding=7, margin=0, label_text_font=FONT, label_text_font_size="21px",
                label_text_color="black", border_line_color="#cccccc",
                border_line_width=1, background_fill_color="white")
lp.add_layout(legend)

layout = column(row(*panels[:4]), row(*panels[4:]), lp)
open("out.html", "w").write(file_html(layout, INLINE))
